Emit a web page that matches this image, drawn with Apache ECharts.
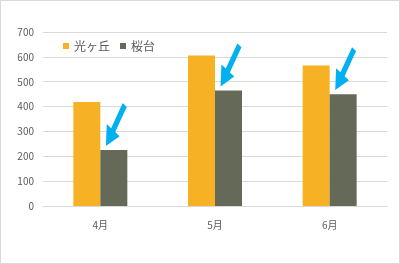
<!DOCTYPE html>
<html><head><meta charset="utf-8">
<script src="https://cdn.jsdelivr.net/npm/echarts@6/dist/echarts.min.js"></script>
<style>html,body{margin:0;padding:0;background:#fff;}#c{width:398px;height:262px;border:1px solid #d9d9d9;}</style>
</head><body><div id="c"></div>
<script>
const categories = ['4月', '5月', '6月'];
const seriesNames = ['光ヶ丘', '桜台'];
const hikarigaoka = [418, 605, 565];
const sakuradai = [225, 465, 450];
const yTicks = [0, 100, 200, 300, 400, 500, 600, 700];

const arrowPath = 'path://M0,42.93 L19.64,33.11 L13.37,28.98 L29.92,3.85 L24.08,0 L7.53,25.13 L1.26,21.01 Z';
const chart = echarts.init(document.getElementById('c'), null, {renderer: 'canvas'});
const font = '"Noto Sans CJK JP", "Noto Sans", sans-serif';
chart.setOption({
  animation: false,
  textStyle: {fontFamily: font},
  legend: {
    left: 57, top: 34, itemWidth: 6, itemHeight: 6, itemGap: 10, icon: 'rect',
    textStyle: {color: '#595959', fontSize: 12, fontFamily: font},
    data: seriesNames
  },
  grid: {left: 42, right: 12, top: 31, bottom: 57},
  xAxis: {
    type: 'category', data: categories,
    axisLine: {lineStyle: {color: '#d9d9d9'}}, axisTick: {show: false},
    axisLabel: {color: '#595959', fontSize: 10, margin: 14, fontFamily: font}
  },
  yAxis: {
    type: 'value', min: yTicks[0], max: yTicks[yTicks.length - 1], interval: 100,
    axisLine: {show: false}, axisTick: {show: false},
    splitLine: {lineStyle: {color: '#d9d9d9'}},
    axisLabel: {color: '#595959', fontSize: 10, margin: 9, fontFamily: font}
  },
  series: [
    {name: seriesNames[0], type: 'bar', data: hikarigaoka, barWidth: 27, barGap: '0%',
     itemStyle: {color: '#F6B124'}},
    {name: seriesNames[1], type: 'bar', data: sakuradai, barWidth: 27, barGap: '0%',
     itemStyle: {color: '#656A58'},
     markPoint: {
       symbol: arrowPath, symbolSize: [29.92, 42.93], symbolKeepAspect: true,
       symbolOffset: [2.5, -25.5], silent: true,
       itemStyle: {color: '#00B0F0'}, label: {show: false},
       data: categories.map((c, i) => ({coord: [i, sakuradai[i]]}))
     }}
  ]
});
</script></body></html>
